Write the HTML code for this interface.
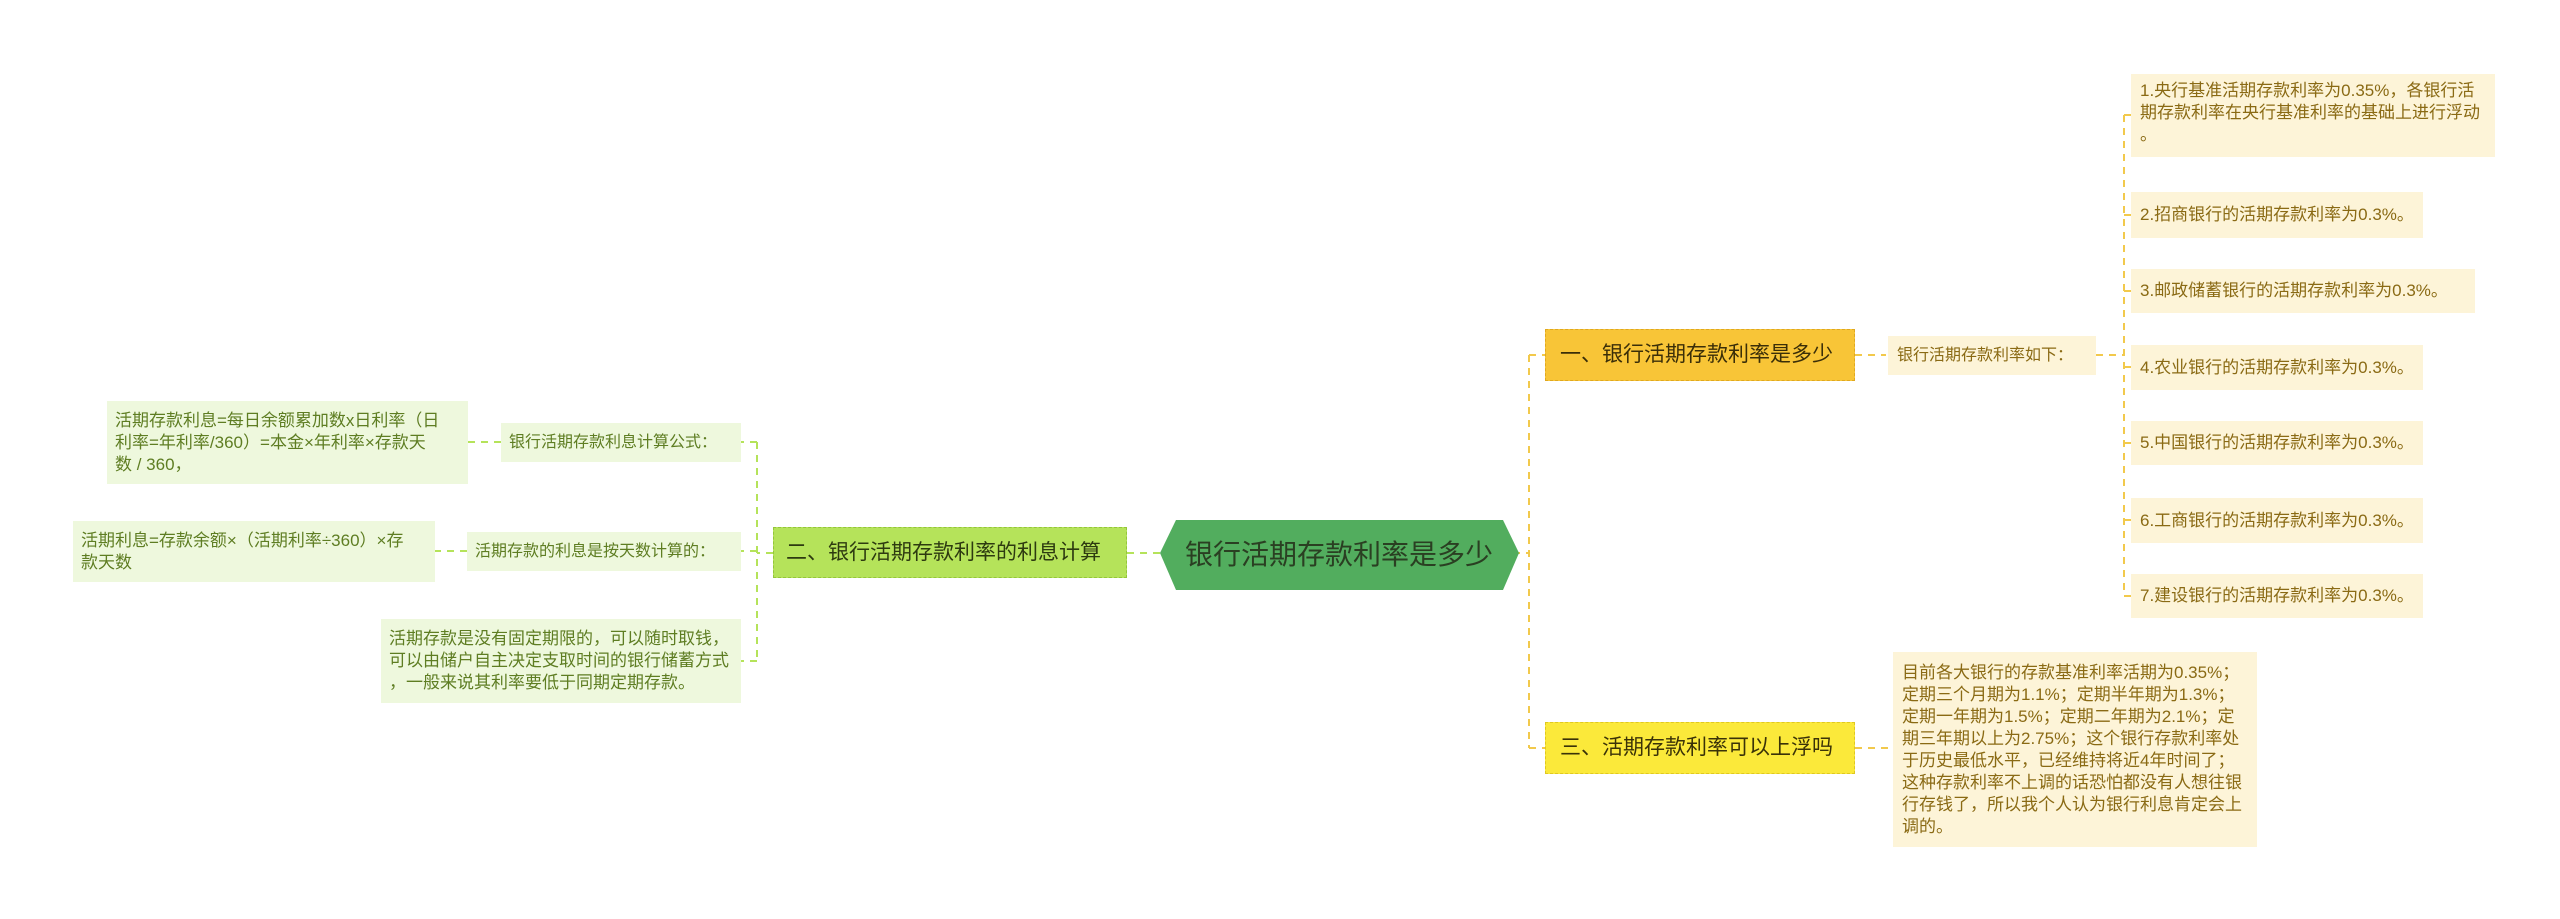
<!DOCTYPE html>
<html><head><meta charset="utf-8"><style>
body{margin:0;width:2560px;height:919px;background:#fff;position:relative;overflow:hidden;font-family:"Liberation Sans","Noto Sans CJK SC",sans-serif}
.b{position:absolute;box-sizing:border-box;display:flex;align-items:center;font-size:17px;line-height:22px;white-space:nowrap}
.y{background:#fdf4d8;color:#8a6a14;padding:0 9px}
.g{background:#eef8dd;color:#5e7d22;padding:0 8px}
</style></head><body>
<svg width="2560" height="919" style="position:absolute;left:0;top:0">
<g fill="none" stroke="#f2c94c" stroke-width="2" stroke-dasharray="7,6">
<path d="M1513 553 H1529 M1529 355 V748 M1529 355 H1545 M1529 748 H1545 M1855 355 H1886 M2096 355 H2124 M2124 115 V596 M2124 115 H2131 M2124 215 H2131 M2124 291 H2131 M2124 367 H2131 M2124 443 H2131 M2124 520 H2131 M2124 596 H2131 M1855 748 H1893"/>
</g>
<g fill="none" stroke="#b5e35a" stroke-width="2" stroke-dasharray="7,6">
<path d="M1127 553 H1161 M773 553 H757 M757 442 V661 M757 442 H741 M757 551 H741 M757 661 H741 M501 442 H468 M467 551 H435"/>
</g>
<polygon points="1176,520 1503,520 1519,553 1503,590 1176,590 1160,553" fill="#52ad5e"/>
<text x="1339" y="564" text-anchor="middle" font-size="28" fill="#2a3f22" font-family="Liberation Sans,Noto Sans CJK SC,sans-serif">银行活期存款利率是多少</text>
</svg>
<div class="b" style="left:1545px;top:329px;width:310px;height:52px;background:#f8c537;border:1px dashed #e0a820;color:#3a2e08;font-size:21px;padding-left:14px">一、银行活期存款利率是多少</div>
<div class="b" style="left:1545px;top:722px;width:310px;height:52px;background:#fbe93a;border:1px dashed #e0c820;color:#3a3208;font-size:21px;padding-left:14px">三、活期存款利率可以上浮吗</div>
<div class="b y" style="left:1888px;top:336px;width:208px;height:39px;font-size:16px">银行活期存款利率如下：</div>
<div class="b y" style="left:2131px;top:74px;width:364px;height:83px;align-items:flex-start;padding-top:6px">1.央行基准活期存款利率为0.35%，各银行活<br>期存款利率在央行基准利率的基础上进行浮动<br>。</div>
<div class="b y" style="left:2131px;top:192px;width:292px;height:46px">2.招商银行的活期存款利率为0.3%。</div>
<div class="b y" style="left:2131px;top:269px;width:344px;height:44px">3.邮政储蓄银行的活期存款利率为0.3%。</div>
<div class="b y" style="left:2131px;top:345px;width:292px;height:45px">4.农业银行的活期存款利率为0.3%。</div>
<div class="b y" style="left:2131px;top:421px;width:292px;height:44px">5.中国银行的活期存款利率为0.3%。</div>
<div class="b y" style="left:2131px;top:498px;width:292px;height:45px">6.工商银行的活期存款利率为0.3%。</div>
<div class="b y" style="left:2131px;top:574px;width:292px;height:44px">7.建设银行的活期存款利率为0.3%。</div>
<div class="b y" style="left:1893px;top:652px;width:364px;height:195px">目前各大银行的存款基准利率活期为0.35%；<br>定期三个月期为1.1%；定期半年期为1.3%；<br>定期一年期为1.5%；定期二年期为2.1%；定<br>期三年期以上为2.75%；这个银行存款利率处<br>于历史最低水平，已经维持将近4年时间了；<br>这种存款利率不上调的话恐怕都没有人想往银<br>行存钱了，所以我个人认为银行利息肯定会上<br>调的。</div>
<div class="b" style="left:773px;top:527px;width:354px;height:51px;background:#b5e35a;border:1px dashed #94c63a;color:#2d3a10;font-size:21px;padding-left:12px">二、银行活期存款利率的利息计算</div>
<div class="b g" style="left:501px;top:423px;width:240px;height:39px;font-size:16px">银行活期存款利息计算公式：</div>
<div class="b g" style="left:107px;top:401px;width:361px;height:83px">活期存款利息=每日余额累加数x日利率（日<br>利率=年利率/360）=本金×年利率×存款天<br>数 / 360，</div>
<div class="b g" style="left:467px;top:532px;width:274px;height:39px;font-size:16px">活期存款的利息是按天数计算的：</div>
<div class="b g" style="left:73px;top:521px;width:362px;height:61px">活期利息=存款余额×（活期利率÷360）×存<br>款天数</div>
<div class="b g" style="left:381px;top:619px;width:360px;height:84px">活期存款是没有固定期限的，可以随时取钱，<br>可以由储户自主决定支取时间的银行储蓄方式<br>，一般来说其利率要低于同期定期存款。</div>
</body></html>
